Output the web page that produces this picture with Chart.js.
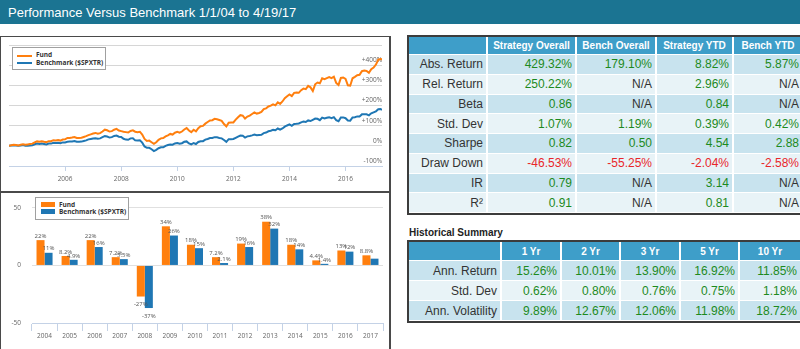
<!DOCTYPE html>
<html>
<head>
<meta charset="utf-8">
<title>Performance Versus Benchmark</title>
<script src="https://cdn.jsdelivr.net/npm/chart.js@4.4.0/dist/chart.umd.min.js"></script>
<style>
  html, body { margin: 0; padding: 0; background: #fff; }
  #page { position: relative; width: 800px; height: 349px; overflow: hidden; font-family: "Liberation Sans", Arial, sans-serif; }
  #header { position: absolute; left: 0; top: 0; width: 800px; height: 24px; background: #1b7492; color: #fff;
            font-size: 13px; line-height: 25px; padding-left: 8px; box-sizing: border-box; }
  .panel { position: absolute; left: 0; width: 388px; background: #fff; border: 1px solid #4a4a4a; border-right-width: 2px; }
  #linePanel { top: 36px; height: 154px; }
  #barPanel { top: 192px; height: 170px; }
  .panel canvas { position: absolute; left: 0; top: 0; }
  .legend { position: absolute; box-sizing: border-box; border: 1px solid #a0a0a0; background: #fff;
            font-family: "Open Sans", sans-serif; font-weight: bold; font-size: 6.5px; color: #333; }
  .legend .mark { position: absolute; }
  .legend .txt { position: absolute; line-height: 8px; white-space: nowrap; }
  .tbl { position: absolute; left: 407px; border: 2px solid #3c3c3c; border-right: none; }
  .tbl table { border-collapse: separate; border-spacing: 0; table-layout: fixed; font-size: 12px; }
  .tbl td, .tbl th { padding: 0 3px 0 0; border-right: 2px solid #fff; border-bottom: 1px solid #fff;
                     text-align: right; white-space: nowrap; overflow: hidden; }
  .tbl th { background: #3e9ec9; color: #fff; font-size: 10px; font-weight: bold; text-align: center; padding: 0; }
  .tbl tr.odd td { background: #c8e3ee; }
  .tbl tr.even td { background: #e8f3f7; }
  .tbl td.lbl { color: #333; }
  .tbl td.pos { color: #1d8a1d; }
  .tbl td.neg { color: #e8262a; }
  .tbl td.na { color: #333; }
  #histTitle { position: absolute; left: 409px; top: 227px; font-size: 10px; font-weight: bold; color: #222; }
</style>
</head>
<body>
<div id="page">
  <div id="header">Performance Versus Benchmark 1/1/04 to 4/19/17</div>

  <div class="panel" id="linePanel">
    <canvas id="lineChart" width="388" height="154"></canvas>
    <div class="legend" style="left:11px;top:10px;width:94px;height:23px;">
      <div class="mark" style="left:4px;top:7px;width:15px;height:2px;background:#ff7f0e;"></div>
      <div class="txt" style="left:23px;top:3px;">Fund</div>
      <div class="mark" style="left:4px;top:14px;width:15px;height:2px;background:#1f77b4;"></div>
      <div class="txt" style="left:23px;top:11px;">Benchmark ($SPXTR)</div>
    </div>
  </div>

  <div class="panel" id="barPanel">
    <canvas id="barChart" width="388" height="156"></canvas>
    <div class="legend" style="left:34px;top:4px;width:94px;height:23px;">
      <div class="mark" style="left:5px;top:4px;width:14px;height:5px;background:#ff7f0e;"></div>
      <div class="txt" style="left:23px;top:3px;">Fund</div>
      <div class="mark" style="left:5px;top:11px;width:14px;height:5px;background:#1f77b4;"></div>
      <div class="txt" style="left:23px;top:10px;">Benchmark ($SPXTR)</div>
    </div>
  </div>

  <div class="tbl" style="top:35px;">
    <table id="statsTable"></table>
  </div>

  <div id="histTitle">Historical Summary</div>
  <div class="tbl" style="top:240px;">
    <table id="histTable"></table>
  </div>
</div>

<script>
// ---- line chart data: cumulative return (%), month ends from 1/1/04 to 4/19/17 ----
const fundPct = [0,
  3, 5, 4, 2, 5, 8, 5, 7, 9, 11, 17, 22,
  20, 23, 20, 18, 23, 23, 28, 27, 29, 26, 31, 32,
  39, 39, 41, 44, 39, 39, 40, 44, 48, 53, 57, 61,
  64, 60, 63, 71, 80, 77, 71, 73, 80, 84, 76, 73,
  70, 68, 66, 74, 77, 70, 68, 70, 56, 34, 24, 26,
  18, 10, 18, 30, 37, 39, 47, 52, 59, 56, 65, 69,
  65, 71, 81, 88, 76, 68, 80, 72, 88, 97, 99, 110,
  118, 126, 127, 134, 132, 128, 124, 108, 96, 115, 116, 116,
  130, 142, 152, 150, 135, 145, 150, 158, 166, 160, 163, 168,
  182, 186, 195, 199, 206, 201, 216, 208, 220, 236, 246, 255,
  247, 263, 265, 263, 276, 284, 281, 297, 290, 272, 305, 314,
  310, 335, 331, 336, 341, 336, 343, 312, 302, 337, 339, 332,
  300, 298, 335, 342, 350, 352, 370, 373, 371, 362, 380, 388,
  403, 427, 430, 429
];
const benchPct = [0,
  2, 3, 2, 0, 2, 4, 0, 1, 2, 3, 8, 11,
  9, 11, 9, 7, 11, 11, 15, 14, 15, 13, 17, 17,
  20, 21, 22, 24, 20, 20, 21, 24, 27, 32, 34, 36,
  38, 35, 37, 43, 48, 46, 41, 43, 49, 51, 45, 44,
  35, 31, 30, 37, 38, 27, 26, 27, 16, -3, -10, -10,
  -17, -26, -20, -12, -7, -7, 0, 4, 7, 6, 12, 14,
  10, 13, 20, 22, 12, 7, 14, 9, 19, 23, 23, 31,
  34, 39, 39, 43, 42, 39, 37, 29, 20, 33, 33, 34,
  40, 46, 51, 50, 41, 47, 49, 52, 56, 53, 54, 55,
  63, 66, 72, 75, 79, 77, 86, 80, 86, 95, 101, 106,
  99, 108, 109, 111, 116, 121, 118, 126, 123, 129, 135, 134,
  127, 140, 136, 139, 142, 137, 142, 127, 122, 141, 141, 137,
  126, 125, 141, 142, 146, 146, 156, 156, 156, 151, 161, 166,
  171, 181, 182, 179
];
const startYear = 2004;
const endYear = 2017.3;
const lineYearTicks = [2006, 2008, 2010, 2012, 2014, 2016];
const lineValueTicks = [-100, 0, 100, 200, 300, 400, 500];

// ---- bar chart data: calendar year returns (%) ----
const barYears = ['2004', '2005', '2006', '2007', '2008', '2009', '2010', '2011', '2012', '2013', '2014', '2015', '2016', '2017'];
const fundAnnual = [22, 8.2, 22, 7.2, -27, 34, 18, 7.2, 19, 38, 18, 4.4, 13, 8.8];
const benchAnnual = [11, 4.9, 16, 5.5, -37, 26, 15, 2.1, 16, 32, 14, 1.4, 12, 5.9];
const fundBarLabels = ['22%', '8.2%', '22%', '7.2%', '-27%', '34%', '18%', '7.2%', '19%', '38%', '18%', '4.4%', '13%', '8.8%'];
const benchBarLabels = ['11%', '4.9%', '16%', '5.5%', '-37%', '26%', '15%', '2.1%', '16%', '32%', '14%', '1.4%', '12%', ''];
const barValueTicks = [-50, 0, 50];

// ---- table data ----
const statsColumns = ['Strategy Overall', 'Bench Overall', 'Strategy YTD', 'Bench YTD'];
const statsRows = ['Abs. Return', 'Rel. Return', 'Beta', 'Std. Dev', 'Sharpe', 'Draw Down', 'IR', 'R²'];
const statsValues = [
  ['429.32%', '179.10%', '8.82%', '5.87%'],
  ['250.22%', 'N/A', '2.96%', 'N/A'],
  ['0.86', 'N/A', '0.84', 'N/A'],
  ['1.07%', '1.19%', '0.39%', '0.42%'],
  ['0.82', '0.50', '4.54', '2.88'],
  ['-46.53%', '-55.25%', '-2.04%', '-2.58%'],
  ['0.79', 'N/A', '3.14', 'N/A'],
  ['0.91', 'N/A', '0.81', 'N/A']
];
const histColumns = ['1 Yr', '2 Yr', '3 Yr', '5 Yr', '10 Yr'];
const histRows = ['Ann. Return', 'Std. Dev', 'Ann. Volatility'];
const histValues = [
  ['15.26%', '10.01%', '13.90%', '16.92%', '11.85%'],
  ['0.62%', '0.80%', '0.76%', '0.75%', '1.18%'],
  ['9.89%', '12.67%', '12.06%', '11.98%', '18.72%']
];

const ORANGE = '#ff7f0e';
const BLUE = '#1f77b4';
const AXIS = '#c4d2e6';
const LABEL = '#666';

Chart.defaults.font.family = "'Open Sans', sans-serif";
Chart.defaults.font.size = 6.5;
Chart.defaults.color = LABEL;

function toPoints(values) {
  return values.map((v, i) => ({ x: Math.min(startYear + i / 12, endYear), y: v }));
}

new Chart(document.getElementById('lineChart'), {
  type: 'line',
  data: {
    datasets: [
      { label: 'Fund', data: toPoints(fundPct), borderColor: ORANGE, borderWidth: 2, pointRadius: 0 },
      { label: 'Benchmark ($SPXTR)', data: toPoints(benchPct), borderColor: BLUE, borderWidth: 2, pointRadius: 0 }
    ]
  },
  options: {
    responsive: false,
    animation: false,
    layout: { padding: { left: 8, right: 7, top: 8, bottom: 0 } },
    plugins: { legend: { display: false }, tooltip: { enabled: false } },
    scales: {
      x: {
        type: 'linear', min: startYear, max: endYear,
        afterBuildTicks: s => { s.ticks = lineYearTicks.map(v => ({ value: v })); },
        afterFit: s => { s.height = 25; },
        grid: { drawOnChartArea: false, tickLength: 5, color: AXIS },
        border: { color: AXIS },
        ticks: { padding: 4, autoSkip: false, maxRotation: 0, callback: v => String(v) }
      },
      y: {
        position: 'right', min: -100, max: 500,
        afterBuildTicks: s => { s.ticks = lineValueTicks.map(v => ({ value: v })); },
        afterFit: s => { s.width = 0; },
        grid: { color: '#d6d6d6', drawTicks: false },
        border: { display: false },
        ticks: {
          mirror: true, padding: 0, labelOffset: -5,
          callback: v => v === 500 ? '' : (v > 0 ? '+' + v + '%' : v + '%')
        }
      }
    }
  }
});

// value labels above / below each bar
const barLabelPlugin = {
  id: 'barLabels',
  afterDatasetsDraw(chart) {
    const ctx = chart.ctx;
    const texts = [fundBarLabels, benchBarLabels];
    ctx.save();
    ctx.font = "6px 'Open Sans', sans-serif";
    ctx.fillStyle = '#555';
    ctx.textAlign = 'center';
    chart.data.datasets.forEach((ds, di) => {
      chart.getDatasetMeta(di).data.forEach((bar, i) => {
        const text = texts[di][i];
        if (!text) return;
        if (ds.data[i] < 0) {
          ctx.textBaseline = 'top';
          ctx.fillText(text, bar.x, bar.y + 5);
        } else {
          ctx.textBaseline = 'bottom';
          ctx.fillText(text, bar.x, bar.y - 1);
        }
      });
    });
    ctx.restore();
  }
};

new Chart(document.getElementById('barChart'), {
  type: 'bar',
  data: {
    labels: barYears,
    datasets: [
      { label: 'Fund', data: fundAnnual, backgroundColor: ORANGE, categoryPercentage: 0.64, barPercentage: 1 },
      { label: 'Benchmark ($SPXTR)', data: benchAnnual, backgroundColor: BLUE, categoryPercentage: 0.64, barPercentage: 1 }
    ]
  },
  options: {
    responsive: false,
    animation: false,
    layout: { padding: { left: 0, right: 6, top: 9, bottom: 0 } },
    plugins: { legend: { display: false }, tooltip: { enabled: false } },
    scales: {
      x: {
        afterFit: s => { s.height = 26; },
        grid: { offset: true, drawOnChartArea: false, tickLength: 8, color: AXIS },
        border: { color: AXIS },
        ticks: { padding: 1, autoSkip: false, maxRotation: 0 }
      },
      y: {
        min: -50, max: 50,
        afterBuildTicks: s => { s.ticks = barValueTicks.map(v => ({ value: v })); },
        afterFit: s => { s.width = 31; },
        grid: { color: '#e0e0e0', drawTicks: false },
        border: { display: false },
        ticks: { padding: 11 }
      }
    }
  },
  plugins: [barLabelPlugin]
});

// tables
function buildTable(id, columns, rows, values, colWidths, headH, rowH) {
  const table = document.getElementById(id);
  let html = '<colgroup>' + colWidths.map(w => '<col style="width:' + w + 'px">').join('') + '</colgroup>';
  html += '<tr style="height:' + headH + 'px"><th></th>' + columns.map(c => '<th>' + c + '</th>').join('') + '</tr>';
  rows.forEach((r, i) => {
    html += '<tr class="' + (i % 2 === 0 ? 'odd' : 'even') + '" style="height:' + rowH + 'px">';
    html += '<td class="lbl">' + r + '</td>';
    values[i].forEach(v => {
      const cls = v === 'N/A' ? 'na' : (v.charAt(0) === '-' ? 'neg' : 'pos');
      html += '<td class="' + cls + '">' + v + '</td>';
    });
    html += '</tr>';
  });
  table.innerHTML = html;
  table.style.width = colWidths.reduce((a, b) => a + b, 0) + 'px';
}

buildTable('statsTable', statsColumns, statsRows, statsValues, [79, 89, 80, 77, 70], 18, 19.75);
buildTable('histTable', histColumns, histRows, histValues, [93, 60, 59, 60, 59, 62], 19, 20);
</script>
</body>
</html>
